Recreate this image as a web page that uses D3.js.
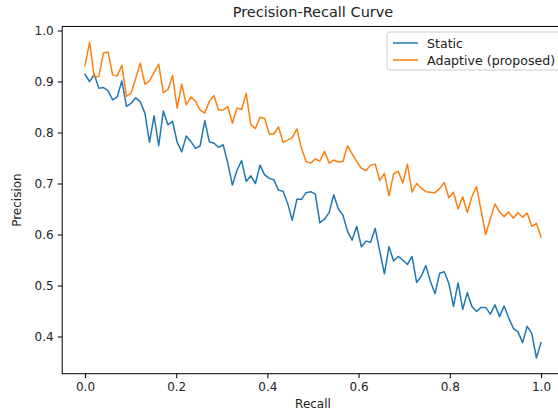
<!DOCTYPE html>
<html>
<head>
<meta charset="utf-8">
<script src="https://cdn.jsdelivr.net/npm/d3@7"></script>
<style>
  body { margin: 0; background: #fff; overflow: hidden; }
  text { font-family: "DejaVu Sans", sans-serif; fill: #222; }
</style>
</head>
<body>
<div id="chart"></div>
<script>
var svgWidth = 558;
var svgHeight = 413;

// recall runs 0..1 in 100 steps
var nPoints = 100;
var staticVals = [0.914, 0.900, 0.914, 0.887, 0.888, 0.882, 0.864, 0.870, 0.901, 0.851,
                  0.857, 0.868, 0.860, 0.838, 0.781, 0.833, 0.774, 0.842, 0.815, 0.822,
                  0.781, 0.762, 0.793, 0.782, 0.769, 0.774, 0.823, 0.782, 0.779, 0.771,
                  0.776, 0.740, 0.697, 0.726, 0.745, 0.704, 0.715, 0.700, 0.736, 0.717,
                  0.710, 0.707, 0.687, 0.685, 0.661, 0.628, 0.669, 0.669, 0.682, 0.684,
                  0.679, 0.623, 0.630, 0.643, 0.678, 0.650, 0.638, 0.606, 0.589, 0.616,
                  0.576, 0.587, 0.585, 0.612, 0.567, 0.523, 0.576, 0.548, 0.557, 0.550,
                  0.541, 0.557, 0.506, 0.518, 0.539, 0.508, 0.484, 0.524, 0.527, 0.504,
                  0.459, 0.505, 0.453, 0.486, 0.459, 0.449, 0.457, 0.457, 0.444, 0.462,
                  0.439, 0.460, 0.436, 0.416, 0.409, 0.388, 0.420, 0.406, 0.358, 0.388];
var adaptiveVals = [0.931, 0.977, 0.909, 0.910, 0.956, 0.958, 0.913, 0.911, 0.932, 0.871,
                    0.877, 0.906, 0.936, 0.895, 0.901, 0.918, 0.934, 0.878, 0.884, 0.912,
                    0.848, 0.895, 0.854, 0.870, 0.861, 0.844, 0.838, 0.861, 0.872, 0.844,
                    0.844, 0.851, 0.818, 0.848, 0.845, 0.877, 0.815, 0.808, 0.830, 0.828,
                    0.797, 0.797, 0.811, 0.781, 0.785, 0.790, 0.807, 0.769, 0.743, 0.740,
                    0.748, 0.744, 0.763, 0.740, 0.746, 0.742, 0.743, 0.774, 0.758, 0.743,
                    0.730, 0.725, 0.736, 0.738, 0.706, 0.720, 0.676, 0.719, 0.724, 0.701,
                    0.738, 0.683, 0.700, 0.691, 0.684, 0.683, 0.682, 0.690, 0.702, 0.672,
                    0.683, 0.650, 0.674, 0.643, 0.674, 0.694, 0.647, 0.600, 0.631, 0.660,
                    0.644, 0.635, 0.644, 0.632, 0.643, 0.634, 0.642, 0.616, 0.622, 0.595];
var seriesNames = ["Static", "Adaptive (proposed)"];
var seriesColors = ["#1f77b4", "#ff7f0e"];
var xTicks = [0.0, 0.2, 0.4, 0.6, 0.8, 1.0];
var yTicks = [0.4, 0.5, 0.6, 0.7, 0.8, 0.9, 1.0];

var recall = d3.range(nPoints).map(i => i / (nPoints - 1));
var series = [staticVals, adaptiveVals].map((vals, k) => ({
    name: seriesNames[k],
    color: seriesColors[k],
    points: vals.map((v, i) => ({x: recall[i], y: v}))
}));

var xScale = d3.scaleLinear().domain([0, 1]).range([85, 541]);
var yScale = d3.scaleLinear().domain([0.4, 1.0]).range([336.5, 30.5]);

// matplotlib style 5% margins around the data
var allY = staticVals.concat(adaptiveVals);
var yPad = (d3.max(allY) - d3.min(allY)) * 0.05;
var frame = {
    left: xScale(-0.05),
    right: xScale(1.05),
    top: yScale(d3.max(allY) + yPad),
    bottom: yScale(d3.min(allY) - yPad)
};

var svg = d3.select("#chart")
    .append("svg")
    .attr("width", svgWidth)
    .attr("height", svgHeight);

svg.append("defs").append("clipPath")
    .attr("id", "plotClip")
    .append("rect")
    .attr("x", frame.left)
    .attr("y", frame.top)
    .attr("width", frame.right - frame.left)
    .attr("height", frame.bottom - frame.top);

var line = d3.line()
    .x(d => xScale(d.x))
    .y(d => yScale(d.y));

svg.append("g")
    .attr("clip-path", "url(#plotClip)")
    .selectAll("path")
    .data(series)
    .enter()
    .append("path")
    .attr("d", d => line(d.points))
    .attr("fill", "none")
    .attr("stroke", d => d.color)
    .attr("stroke-width", 1.5)
    .attr("stroke-linejoin", "round")
    .attr("stroke-linecap", "square");

// axes
var bottomAxis = d3.axisBottom(xScale).tickValues(xTicks).tickFormat(d3.format(".1f"))
    .tickSizeInner(4.5).tickSizeOuter(0).tickPadding(4);
var leftAxis = d3.axisLeft(yScale).tickValues(yTicks).tickFormat(d3.format(".1f"))
    .tickSizeInner(4.5).tickSizeOuter(0).tickPadding(4);

var gx = svg.append("g")
    .attr("transform", `translate(0, ${frame.bottom})`)
    .call(bottomAxis);
var gy = svg.append("g")
    .attr("transform", `translate(${frame.left}, 0)`)
    .call(leftAxis);
[gx, gy].forEach(g => {
    g.select(".domain").remove();
    g.selectAll("text").attr("font-size", "12px").attr("font-family", "DejaVu Sans").attr("fill", "#222");
    g.selectAll("line").attr("stroke", "#000");
});

svg.append("rect")
    .attr("x", frame.left)
    .attr("y", frame.top)
    .attr("width", frame.right - frame.left)
    .attr("height", frame.bottom - frame.top)
    .attr("fill", "none")
    .attr("stroke", "#000")
    .attr("stroke-width", 1);

var midX = (frame.left + frame.right) / 2;

svg.append("text")
    .attr("x", midX)
    .attr("y", 17)
    .attr("text-anchor", "middle")
    .attr("font-size", "14.5px")
    .text("Precision-Recall Curve");

svg.append("text")
    .attr("x", midX)
    .attr("y", 408)
    .attr("text-anchor", "middle")
    .attr("font-size", "12px")
    .text("Recall");

svg.append("text")
    .attr("transform", `translate(21, ${(frame.top + frame.bottom) / 2}) rotate(-90)`)
    .attr("text-anchor", "middle")
    .attr("font-size", "12px")
    .text("Precision");

// legend
var legend = svg.append("g").attr("transform", "translate(387, 32)");
legend.append("rect")
    .attr("width", 190)
    .attr("height", 38)
    .attr("rx", 3)
    .attr("fill", "#fff")
    .attr("fill-opacity", 0.8)
    .attr("stroke", "#ccc");
var items = legend.selectAll(".item")
    .data(series)
    .enter()
    .append("g")
    .attr("transform", (d, i) => `translate(0, ${11 + i * 17})`);
items.append("line")
    .attr("x1", 6).attr("x2", 31)
    .attr("stroke", d => d.color)
    .attr("stroke-width", 1.5);
items.append("text")
    .attr("x", 40)
    .attr("dy", "0.36em")
    .attr("font-size", "12.6px")
    .text(d => d.name);
</script>
</body>
</html>
